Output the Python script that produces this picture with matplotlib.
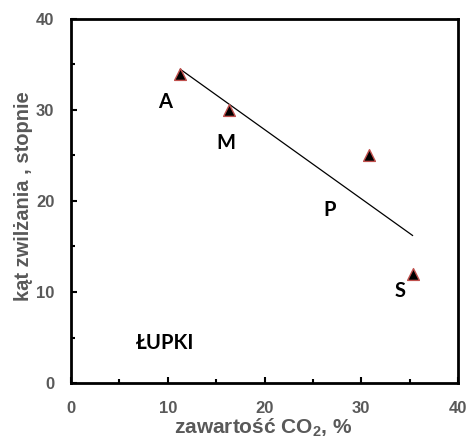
import numpy as np
import matplotlib
matplotlib.use("Agg")
import matplotlib.pyplot as plt
from matplotlib.ticker import MultipleLocator

# data
names = ["A", "M", "P", "S"]
co2 = [11.3, 16.3, 30.8, 35.3]
angle = [34.0, 30.0, 25.0, 12.0]
# label positions (data coords) for point names
label_x = [9.7, 16.0, 26.7, 34.0]
label_y = [30.9, 26.4, 19.0, 10.1]
x_ticks = [0, 10, 20, 30, 40]
y_ticks = [0, 10, 20, 30, 40]

plt.rcParams['font.family'] = ['Liberation Sans', 'DejaVu Sans']
plt.rcParams['font.weight'] = 'bold'
plt.rcParams['mathtext.fontset'] = 'custom'
plt.rcParams['mathtext.rm'] = 'Liberation Sans:bold'
plt.rcParams['mathtext.it'] = 'Liberation Sans:bold'
plt.rcParams['mathtext.bf'] = 'Liberation Sans:bold'

gray = '#595959'
fig = plt.figure(figsize=(4.66, 4.40), dpi=100)
ax = fig.add_axes([71/466, 1-383/440, (458-71)/466, (383-19)/440])

# trend line
p = np.polyfit(co2, angle, 1)
xx = np.array([min(co2), max(co2)])
ax.plot(xx, np.polyval(p, xx), color='black', lw=0.9, zorder=2)

ax.scatter(co2, angle, marker='^', s=72, facecolor='black', edgecolor='#c0504d', linewidth=1.0, zorder=3)

for n, lx, ly in zip(names, label_x, label_y):
    ax.text(lx, ly, n, fontsize=14.5, fontweight='bold', family='Lato', ha='center', va='center', color='black')
ax.text(9.7, 4.4, 'ŁUPKI', fontsize=14.5, fontweight='bold', family='Lato', ha='center', va='center', color='black')

ax.set_xlim(0, 40)
ax.set_ylim(0, 40)
ax.set_xticks(x_ticks)
ax.set_yticks(y_ticks)
ax.xaxis.set_minor_locator(MultipleLocator(5))
ax.yaxis.set_minor_locator(MultipleLocator(5))
for s in ax.spines.values():
    s.set_linewidth(2.0)
ax.tick_params(which='both', direction='in', width=1.5, colors='black', labelcolor=gray, labelsize=12)
ax.tick_params(which='major', length=4)
ax.tick_params(which='minor', length=3)
ax.tick_params(axis='x', which='major', pad=13)
ax.tick_params(axis='y', which='major', pad=12)

ax.set_xlabel('zawartość CO$_\\mathregular{2}$, %', fontsize=15, fontweight='bold', color=gray)
ax.set_ylabel('kąt zwilżania , stopnie', fontsize=14.5, fontweight='bold', color=gray)
ax.xaxis.set_label_coords(0.497, (383 - 417) / 364)
ax.yaxis.set_label_coords((33 - 71) / 387, 0.514)

fig.savefig('out.png', dpi=100)
